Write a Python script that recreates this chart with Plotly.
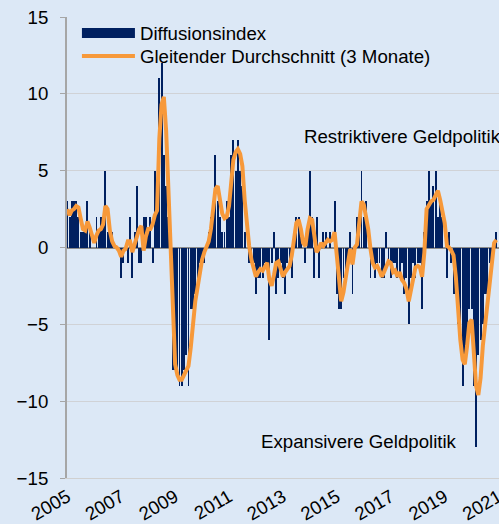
import pandas as pd
import plotly.graph_objects as go

# Monthly diffusion index (Jan 2005 - Dec 2020)
diffusion_index = [
    3, 2, 3, 3, 3, 2, 1, 1, 1, 3, 1, 0,
    0, 2, 1, 2, 2, 5, 1, 1, 1, 0, 0, 0,
    -2, -1, 0, -1, 2, -2, 1, 4, -1, -1, 2, 2,
    1, 2, -1, 5, 3, 11, 12, 6, 4, 2, -2, -8,
    -8, -8, -9, -9, -8, -7, -9, -4, -4, -3, -2, -1,
    -1, -1, 0, 1, 2, 3, 6, 3, 2, 1, 1, 3,
    2, 6, 7, 5, 7, 5, 4, 1, 0, -1, -1, -1,
    -3, -2, -2, -2, -1, -1, -6, -1, 1, -3, -2, -1,
    -2, -3, -1, -1, -2, 1, 2, 2, 1, 0, -1, 1,
    5, 2, -2, 2, -2, 0, 1, 1, 0, 1, 0, 3,
    -3, -4, -4, -2, -2, -1, 1, -3, 0, 2, 2, 5,
    2, 3, 0, -2, -1, -2, -1, -1, -2, -2, 1, -1,
    -2, -1, -1, -2, -2, -1, -3, -2, -5, -2, -1, -2,
    -1, -1, -4, 1, 3, 5, 3, 4, 5, 2, 3, 2,
    0, -2, 1, -1, -3, -2, -5, -5, -9, -7, -6, -4,
    -4, -9, -13, -7, -6, -5, -3, -3, -1, -1, 0, 1,
]

# 3-month moving average line
moving_average = [
    2.5, 2.1, 2.4, 2.5, 2.7, 2.6, 1.9, 1.2, 1.1, 1.7, 1.3, 0.8,
    0.3, 0.8, 1.1, 1.2, 1.5, 2.7, 2.5, 1.1, 0.4, 0.1, 0.0, -0.2,
    -0.6, -0.2, -0.1, 0.4, 0.4, -0.3, 0.2, 0.8, 1.2, 1.4, -0.2, 0.7,
    1.2, 1.2, 1.5, 2.1, 2.4, 7.1, 9.3, 9.8, 7.6, 3.9, 0.2, -4.4,
    -7.6, -8.3, -8.6, -8.6, -8.3, -7.9, -7.7, -6.5, -4.6, -3.5, -2.6, -1.5,
    -0.8, -0.3, 0.1, 0.4, 1.2, 2.7, 3.8, 4.0, 3.0, 2.2, 1.9, 2.0,
    2.7, 4.4, 5.7, 6.2, 6.4, 6.1, 5.3, 3.1, 1.2, 0.1, -0.8, -1.4,
    -1.9, -1.6, -1.4, -1.5, -1.3, -1.0, -2.1, -2.5, -1.8, -1.0, -0.9, -1.5,
    -1.9, -1.6, -1.4, -1.2, -0.5, 0.4, 1.6, 1.8, 1.2, 0.3, 0.1, 1.2,
    1.9, 1.8, 0.7, -0.3, -0.1, 0.3, 0.1, 0.3, 0.5, 0.4, 0.5, 1.0,
    -0.8, -2.1, -3.5, -2.9, -1.9, -0.8, -0.1, -1.1, 0.0, 0.2, 1.8, 3.0,
    2.8, 2.0, 1.2, -0.1, -1.0, -1.3, -1.2, -1.5, -1.9, -1.6, -1.2, -0.9,
    -1.0, -1.6, -1.5, -1.9, -1.6, -2.1, -2.3, -2.7, -3.5, -2.7, -2.1, -1.3,
    -1.2, -1.3, -1.9, -0.3, 2.5, 2.8, 3.0, 3.1, 3.4, 3.7, 3.1, 2.3,
    1.6, 0.1, 0.0, -0.2, -0.5, -1.9, -4.3, -6.0, -7.3, -7.6, -6.4, -4.9,
    -4.7, -7.1, -9.0, -9.6, -8.5, -6.4, -5.1, -3.4, -1.9, -0.6, 0.3, 0.5,
]

months = pd.date_range("2005-01-01", periods=len(diffusion_index), freq="MS")
tick_years = [2005, 2007, 2009, 2011, 2013, 2015, 2017, 2019, 2021]
y_ticks = [-15, -10, -5, 0, 5, 10, 15]

FONT = "Liberation Sans, Arial, sans-serif"
FS = 18.67
BG = "#dce8f6"
NAVY = "#002060"
ORANGE = "#f7993a"

fig = go.Figure()
fig.add_trace(go.Bar(
    x=months, y=diffusion_index, name="Diffusionsindex",
    marker=dict(color=NAVY, line=dict(width=0)),
    width=13 * 86400000, showlegend=False,
))
# legend entry for the bars (wide rectangle symbol like the original)
fig.add_trace(go.Scatter(
    x=[None], y=[None], name="Diffusionsindex", mode="lines",
    line=dict(color=NAVY, width=10), legend="legend",
))
fig.add_trace(go.Scatter(
    x=months, y=moving_average, name="Gleitender Durchschnitt (3 Monate)",
    mode="lines", line=dict(color=ORANGE, width=4), legend="legend2",
))

fig.add_annotation(text="Restriktivere Geldpolitik", xref="paper", yref="y",
                   x=0.544, y=7.2, xanchor="left", yanchor="middle",
                   showarrow=False, font=dict(size=FS, color="#000000", family=FONT))
fig.add_annotation(text="Expansivere Geldpolitik", xref="paper", yref="y",
                   x=0.444, y=-12.6, xanchor="left", yanchor="middle",
                   showarrow=False, font=dict(size=FS, color="#000000", family=FONT))

legend_common = dict(xanchor="left", yanchor="top", bgcolor="rgba(0,0,0,0)",
                     itemwidth=53, font=dict(size=FS, family=FONT, color="#000000"))

fig.update_layout(
    width=499, height=524,
    margin=dict(l=67, r=0, t=17, b=46, autoexpand=False),
    paper_bgcolor=BG, plot_bgcolor=BG,
    font=dict(family=FONT, size=FS, color="#000000"),
    showlegend=True,
    legend=dict(x=0.023, y=1.0059, **legend_common),
    legend2=dict(x=0.023, y=0.956, **legend_common),
    bargap=0,
    xaxis=dict(
        type="date", automargin=False,
        range=["2004-12-28", "2021-01-06"],
        tickvals=[pd.Timestamp(f"{y}-01-01") for y in tick_years],
        ticktext=[str(y) for y in tick_years],
        tickangle=-30, showgrid=False, zeroline=False,
        showline=True, linecolor="#d0d0d0", linewidth=1,
        ticks="", tickfont=dict(size=FS, family=FONT, color="#000000"),
        ticklabeloverflow="allow",
    ),
    yaxis=dict(
        range=[-15, 15], tickvals=y_ticks, automargin=False,
        showgrid=True, gridcolor="#d0d2d6", gridwidth=1,
        zeroline=True, zerolinecolor="#8c8c8c", zerolinewidth=1.5,
        showline=True, linecolor="#a6a6a6", linewidth=2,
        ticks="outside", ticklen=5, tickcolor="#a6a6a6",
        tickfont=dict(size=FS, family=FONT, color="#000000"),
        ticklabelstandoff=8,
    ),
)

fig.write_html("out.html", config={"displayModeBar": False},
               post_script="document.body.style.margin='0';")
